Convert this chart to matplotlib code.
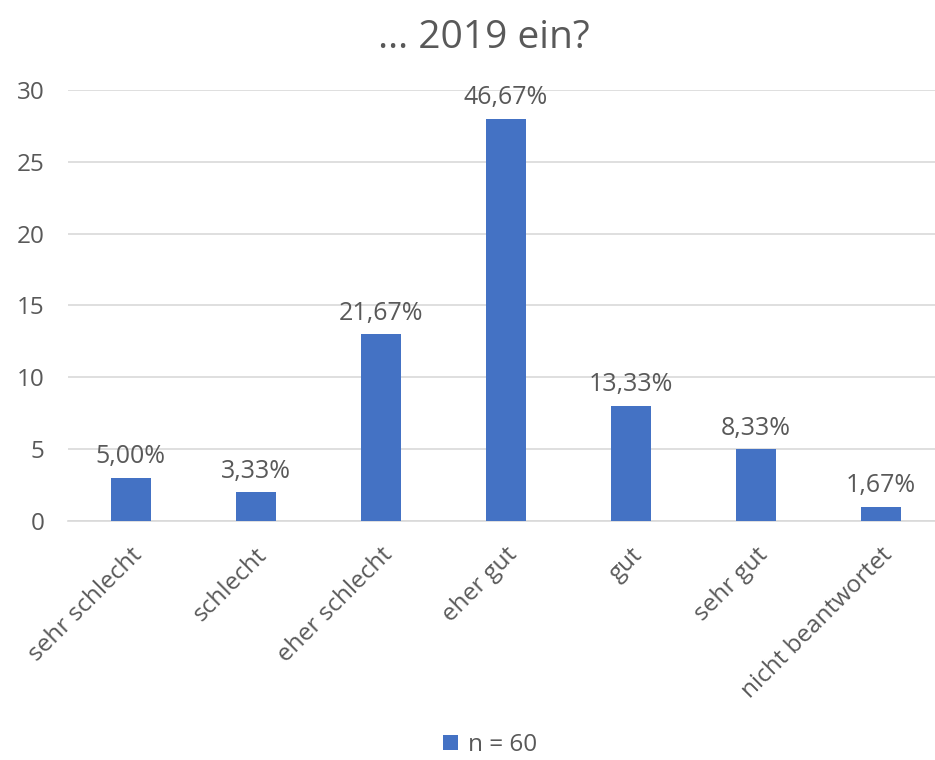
import matplotlib
matplotlib.use("Agg")
from matplotlib import pyplot as plt

categories = ["sehr schlecht", "schlecht", "eher schlecht", "eher gut", "gut", "sehr gut", "nicht beantwortet"]
counts = [3, 2, 13, 28, 8, 5, 1]
labels = ["5,00%", "3,33%", "21,67%", "46,67%", "13,33%", "8,33%", "1,67%"]

TEXT = "#595959"
BLUE = "#4472C4"
plt.rcParams["font.family"] = ["Open Sans", "DejaVu Sans"]

fig = plt.figure(figsize=(9.35, 7.6), dpi=100)
ax = fig.add_axes([68 / 935, 1 - 521 / 760, 875 / 935, (521 - 90) / 760])

x = list(range(len(categories)))
bars = ax.bar(x, counts, width=0.32, color=BLUE, label="n = 60", zorder=3)
for b, lab in zip(bars, labels):
    ax.text(b.get_x() + b.get_width() / 2, b.get_height() + 0.6, lab,
            ha="center", va="bottom", fontsize=18, color=TEXT)

ax.set_xlim(-0.5, len(categories) - 0.5)
ax.set_ylim(0, 30)
ax.set_yticks(range(0, 31, 5))
ax.yaxis.grid(True, color="#d9d9d9", linewidth=1.2, zorder=0)
for s in ax.spines.values():
    s.set_visible(False)
ax.spines["bottom"].set_visible(True)
ax.spines["bottom"].set_color("#d9d9d9")
ax.spines["bottom"].set_linewidth(1.2)
ax.tick_params(axis="both", length=0, labelsize=17.5, labelcolor=TEXT)
ax.tick_params(axis="y", pad=17)
ax.set_xticks(x)
ax.set_xticklabels(categories, rotation=45, ha="right", rotation_mode="anchor")
ax.tick_params(axis="x", pad=16)

fig.text(484 / 935, 1 - 38 / 760, "… 2019 ein?", ha="center", va="center", fontsize=28, color=TEXT)
fig.legend(loc="center", bbox_to_anchor=(490 / 935, 1 - 745 / 760), frameon=False,
           fontsize=17.5, labelcolor=TEXT, handlelength=0.6, handleheight=0.6, handletextpad=0.4)

fig.savefig("out.png", dpi=100)
